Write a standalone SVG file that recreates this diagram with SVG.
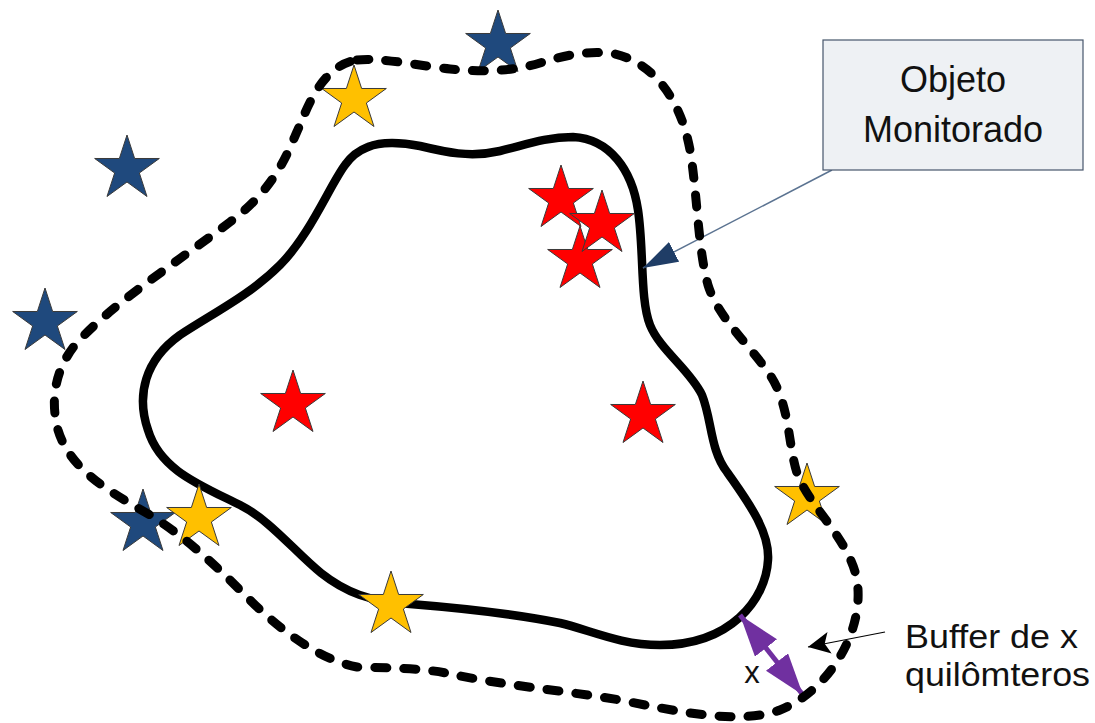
<svg xmlns="http://www.w3.org/2000/svg" xmlns:xlink="http://www.w3.org/1999/xlink" width="1095" height="723" viewBox="0 0 1095 723">
<style>
.solid{fill:none;stroke:#000;stroke-width:8.5;stroke-linejoin:round}
.dashed{fill:none;stroke:#000;stroke-width:9;stroke-linecap:round;stroke-dasharray:12 17}
.st{stroke:#3a3a3a;stroke-width:1}
.blue{fill:#1f497d}
.yellow{fill:#ffc000}
.red{fill:#ff0000}
.lbl{font-family:"Liberation Sans",Arial,sans-serif;fill:#111}
</style>
<defs>
<path id="star" d="M0,-34 L7.63,-10.51 L32.34,-10.51 L12.35,4.01 L19.99,27.51 L0,12.99 L-19.99,27.51 L-12.35,4.01 L-32.34,-10.51 L-7.63,-10.51 Z"/>
<marker id="headBlue" markerUnits="userSpaceOnUse" markerWidth="36" markerHeight="24" refX="35" refY="11" orient="auto" viewBox="0 0 36 24">
<path d="M0,0 L35,11 L0,22 Z" fill="#1f3d66"/>
</marker>
<marker id="headPurple" markerUnits="userSpaceOnUse" markerWidth="44" markerHeight="30" refX="42" refY="14" orient="auto-start-reverse" viewBox="0 0 44 30">
<path d="M0,0 L42,14 L0,28 Z" fill="#7030a0"/>
</marker>
<marker id="headBlack" markerUnits="userSpaceOnUse" markerWidth="24" markerHeight="24" refX="22" refY="11" orient="auto" viewBox="0 0 24 24">
<path d="M0,0 L22,11 L0,22 L5,11 Z" fill="#000"/>
</marker>
</defs>
<rect width="1095" height="723" fill="#fff"/>

<g id="objeto-outline">
<path class="solid" d="M 368,147 C 380,142 400,142 420,146 C 445,152 470,158 500,151 C 525,145 545,137 573,137 C 610,139 632,170 638,210 C 644,250 640,300 650,325 C 660,350 690,370 702,395 C 712,420 710,450 727,472 C 745,498 770,530 768,560 C 766,600 730,645 660,645 C 620,645 590,630 560,623 C 520,615 460,608 410,604 C 370,602 345,592 321,573 C 295,552 270,520 240,505 C 200,485 160,470 148,430 C 136,395 145,360 180,335 C 215,312 250,295 280,265 C 310,235 330,185 345,165 C 352,155 360,150 368,147 Z"/>
</g>

<g id="stars">
<use id="star-blue-1" xlink:href="#star" href="#star" class="st blue" x="498" y="44"/>
<use id="star-blue-2" xlink:href="#star" href="#star" class="st blue" x="127" y="169"/>
<use id="star-blue-3" xlink:href="#star" href="#star" class="st blue" x="45" y="322"/>
<use id="star-blue-4" xlink:href="#star" href="#star" class="st blue" x="143" y="523"/>
<use id="star-yellow-1" xlink:href="#star" href="#star" class="st yellow" x="354" y="99"/>
<use id="star-yellow-2" xlink:href="#star" href="#star" class="st yellow" x="199" y="518"/>
<use id="star-yellow-3" xlink:href="#star" href="#star" class="st yellow" x="391" y="605"/>
<use id="star-yellow-4" xlink:href="#star" href="#star" class="st yellow" x="807" y="497"/>
<use id="star-red-1" xlink:href="#star" href="#star" class="st red" x="561" y="199"/>
<use id="star-red-3" xlink:href="#star" href="#star" class="st red" x="580" y="260"/>
<use id="star-red-2" xlink:href="#star" href="#star" class="st red" x="602" y="224"/>
<use id="star-red-4" xlink:href="#star" href="#star" class="st red" x="293" y="404"/>
<use id="star-red-5" xlink:href="#star" href="#star" class="st red" x="643" y="415"/>
</g>

<g id="connectors">
<line x1="832" y1="170" x2="643" y2="268" stroke="#5b7391" stroke-width="1.5" marker-end="url(#headBlue)"/>
<line x1="885" y1="632" x2="808" y2="647" stroke="#000" stroke-width="1.2" marker-end="url(#headBlack)"/>
<line x1="740" y1="615" x2="803" y2="695" stroke="#7030a0" stroke-width="5" marker-start="url(#headPurple)" marker-end="url(#headPurple)"/>
</g>

<g id="buffer-outline">
<path class="dashed" d="M 357,60 C 380,57 420,66 450,69 C 480,72 510,72 540,63 C 565,55 590,50 615,54 C 650,62 680,95 690,150 C 697,190 698,250 708,285 C 718,318 750,345 770,375 C 790,405 788,445 797,473 C 808,505 850,540 857,580 C 865,630 830,690 780,710 C 740,725 680,712 620,700 C 560,690 500,685 446,673 C 420,668 390,668 357,667 C 320,660 280,630 250,600 C 220,570 190,540 150,515 C 110,492 70,470 58,430 C 50,400 55,370 75,345 C 110,305 180,260 230,222 C 280,185 290,145 300,125 C 310,100 325,65 357,60 Z"/>
</g>

<g id="objeto-monitorado">
<rect x="823" y="40" width="260" height="130" fill="#eef1f4" stroke="#47566b" stroke-width="1.2"/>
<text class="lbl" x="953" y="92" font-size="36" text-anchor="middle">Objeto</text>
<text class="lbl" x="953" y="142" font-size="36" text-anchor="middle">Monitorado</text>
</g>

<g id="buffer-label">
<text class="lbl" x="905" y="648" font-size="33" textLength="173" lengthAdjust="spacingAndGlyphs">Buffer de x</text>
<text class="lbl" x="905" y="686" font-size="33" textLength="185" lengthAdjust="spacingAndGlyphs">quilômteros</text>
</g>

<g id="x-label">
<text class="lbl" x="752" y="683" font-size="31" text-anchor="middle">x</text>
</g>
</svg>
